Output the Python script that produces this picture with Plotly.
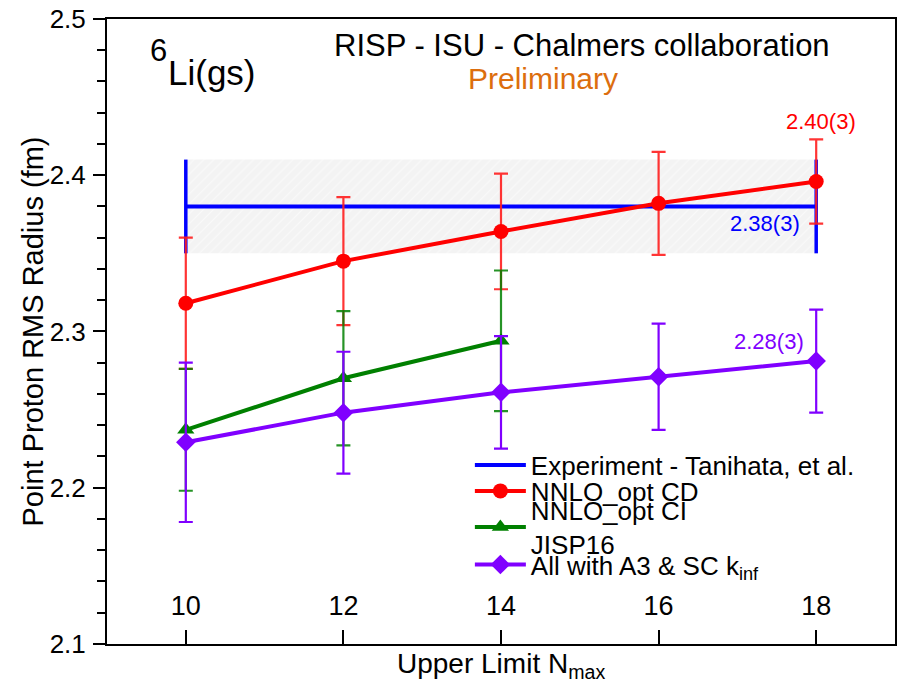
import plotly.graph_objects as go

# N_max truncation points
nmax_cd = [10, 12, 14, 16, 18]
nmax_ci = [10, 12, 14]
nmax_sc = [10, 12, 14, 16, 18]

# Point-proton rms radius (fm) and uncertainty
radius_cd = [2.318, 2.345, 2.364, 2.382, 2.396]
err_cd = [0.042, 0.041, 0.037, 0.033, 0.027]

radius_ci = [2.237, 2.270, 2.294]
err_ci = [0.039, 0.043, 0.045]

radius_sc = [2.229, 2.248, 2.261, 2.271, 2.281]
err_sc = [0.051, 0.039, 0.036, 0.034, 0.033]

# Experiment (Tanihata et al.)
exp_nmax = [10, 18]
exp_value = 2.38
exp_err = 0.03

x_ticks = [10, 12, 14, 16, 18]
y_major = [2.1, 2.2, 2.3, 2.4, 2.5]
y_all_ticks = [2.10, 2.12, 2.14, 2.16, 2.18, 2.20, 2.22, 2.24, 2.26, 2.28,
               2.30, 2.32, 2.34, 2.36, 2.38, 2.40, 2.42, 2.44, 2.46, 2.48,
               2.50]
y_tick_labels = ["2.1", "", "", "", "", "2.2", "", "", "", "",
                 "2.3", "", "", "", "", "2.4", "", "", "", "", "2.5"]
y_range = [2.0999, 2.5]

FONT = "Liberation Sans, Arial, Helvetica, sans-serif"
RED = "#ff0000"
GREEN = "#008000"
PURPLE = "#8000ff"
BLUE = "#0000ff"


def label(value, err):
    return f"{value:.2f}({round(err * 100)})"


fig = go.Figure()

# hatched experimental band
band_x = [exp_nmax[0], exp_nmax[1], exp_nmax[1], exp_nmax[0], exp_nmax[0]]
band_y = [exp_value - exp_err, exp_value - exp_err,
          exp_value + exp_err, exp_value + exp_err, exp_value - exp_err]
fig.add_trace(go.Scatter(
    x=band_x, y=band_y, mode="lines", fill="toself",
    line=dict(width=0, color="rgba(0,0,0,0)"),
    fillcolor="#f3f3f3",
    fillpattern=dict(shape="/", bgcolor="#f3f3f3", fgcolor="#ffffff",
                     size=7, solidity=0.15),
    showlegend=False, hoverinfo="skip",
))

fig.add_trace(go.Scatter(
    x=exp_nmax, y=[exp_value] * len(exp_nmax), mode="lines",
    name="Experiment - Tanihata, et al.", legend="legend",
    line=dict(color=BLUE, width=4),
    error_y=dict(type="data", array=[exp_err] * len(exp_nmax),
                 color=BLUE, thickness=3.5, width=0),
))

fig.add_trace(go.Scatter(
    x=nmax_cd, y=radius_cd, mode="lines+markers", name="NNLO_opt CD",
    legend="legend2",
    line=dict(color=RED, width=4),
    marker=dict(symbol="circle", size=15, color=RED),
    error_y=dict(type="data", array=err_cd, color="rgba(255,30,30,0.9)",
                 thickness=2.2, width=7),
))

fig.add_trace(go.Scatter(
    x=nmax_ci, y=radius_ci, mode="lines+markers",
    name="NNLO_opt CI<br>JISP16", legend="legend3",
    line=dict(color=GREEN, width=4),
    marker=dict(symbol="triangle-up", size=15, color=GREEN),
    error_y=dict(type="data", array=err_ci, color="rgba(0,128,0,0.85)",
                 thickness=2.2, width=7),
))

# topmost series lives on the overlaid axis that carries the long ticks
fig.add_trace(go.Scatter(
    x=nmax_sc, y=radius_sc, mode="lines+markers", yaxis="y2",
    name="All with A3 &amp; SC k<sub>inf</sub>", legend="legend4",
    line=dict(color=PURPLE, width=4),
    marker=dict(symbol="diamond", size=15, color=PURPLE),
    error_y=dict(type="data", array=err_sc, color=PURPLE,
                 thickness=2.2, width=7),
))

annotations = [
    dict(x=0.052, y=0.918, xref="paper", yref="paper", text="6",
         showarrow=False, xanchor="left", yanchor="bottom",
         font=dict(family=FONT, size=31, color="black")),
    dict(x=0.075, y=0.880, xref="paper", yref="paper", text="Li(gs)",
         showarrow=False, xanchor="left", yanchor="bottom",
         font=dict(family=FONT, size=35, color="black")),
    dict(x=0.603, y=0.958, xref="paper", yref="paper",
         text="RISP - ISU - Chalmers collaboration",
         showarrow=False, xanchor="center", yanchor="middle",
         font=dict(family=FONT, size=31, color="black")),
    dict(x=0.553, y=0.905, xref="paper", yref="paper", text="Preliminary",
         showarrow=False, xanchor="center", yanchor="middle",
         font=dict(family=FONT, size=30, color="#dc6e0e")),
    dict(x=nmax_cd[-1], y=radius_cd[-1] + err_cd[-1],
         text=label(radius_cd[-1], err_cd[-1]),
         showarrow=False, xanchor="center", yanchor="bottom",
         xshift=5, yshift=3, font=dict(family=FONT, size=22, color=RED)),
    dict(x=exp_nmax[-1], y=exp_value, text=label(exp_value, exp_err),
         showarrow=False, xanchor="right", yanchor="top",
         xshift=-14, yshift=-3, font=dict(family=FONT, size=22, color=BLUE)),
    dict(x=nmax_sc[-1], y=radius_sc[-1], text=label(radius_sc[-1], err_sc[-1]),
         showarrow=False, xanchor="right", yanchor="bottom",
         xshift=-10, yshift=5, font=dict(family=FONT, size=22, color=PURPLE)),
    # axis titles
    dict(x=0.5, y=0, xref="paper", yref="paper",
         text="Upper Limit N<sub>max</sub>",
         showarrow=False, xanchor="center", yanchor="top", yshift=-2,
         font=dict(family=FONT, size=28, color="black")),
    dict(x=0, y=0.5, xref="paper", yref="paper",
         text="Point Proton RMS Radius (fm)", textangle=-90,
         showarrow=False, xanchor="center", yanchor="middle", xshift=-75,
         font=dict(family=FONT, size=29, color="black")),
]


def legend_box(y):
    return dict(x=0.4605, y=y, xanchor="left", yanchor="middle",
                bgcolor="rgba(0,0,0,0)", borderwidth=0,
                font=dict(family=FONT, size=26, color="black"),
                itemwidth=51, valign="middle")


fig.update_layout(
    width=903, height=688,
    margin=dict(l=107, r=8, t=19, b=44, autoexpand=False),
    paper_bgcolor="white", plot_bgcolor="white",
    font=dict(family=FONT, color="black"),
    showlegend=True,
    legend=legend_box(0.2864),
    legend2=legend_box(0.2448),
    legend3=legend_box(0.187),
    legend4=legend_box(0.127),
    annotations=annotations,
)

# tick labels sit above the inward ticks, pulled up into the frame
fig.update_xaxes(
    range=[9, 19], tickvals=x_ticks,
    ticks="inside", ticklen=14, tickwidth=2, tickcolor="black",
    ticklabelposition="outside", ticklabelstandoff=-63,
    tickfont=dict(family=FONT, size=27, color="black"),
    showline=True, linewidth=2, linecolor="black", mirror=True,
    showgrid=False, zeroline=False, automargin=False,
)

fig.update_layout(
    # short ticks every 0.02, labelled every 0.1
    yaxis=dict(
        range=y_range, tickmode="array", tickvals=y_all_ticks,
        ticktext=y_tick_labels,
        ticks="outside", ticklen=8, tickwidth=2, tickcolor="black",
        ticklabelstandoff=6,
        tickfont=dict(family=FONT, size=26, color="black"),
        showline=True, linewidth=2, linecolor="black", mirror=True,
        showgrid=False, zeroline=False, automargin=False,
    ),
    # overlaid copy of the radius axis carrying the long major ticks
    yaxis2=dict(
        overlaying="y", side="left", anchor="free", position=0,
        range=y_range, tickmode="array", tickvals=y_major,
        showticklabels=False,
        ticks="outside", ticklen=14, tickwidth=2, tickcolor="black",
        showline=False, showgrid=False, zeroline=False, automargin=False,
    ),
)

fig.write_html("out.html")
